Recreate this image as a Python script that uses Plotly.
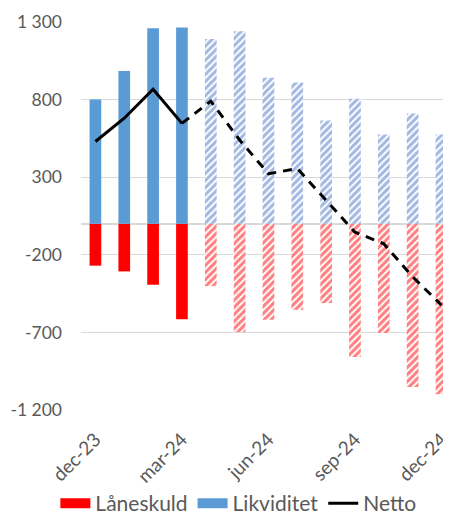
import plotly.graph_objects as go

months = ["dec-23", "jan-24", "feb-24", "mar-24", "apr-24", "maj-24", "jun-24",
          "jul-24", "aug-24", "sep-24", "okt-24", "nov-24", "dec-24"]
likviditet = [800, 985, 1260, 1265, 1190, 1240, 940, 910, 665, 805, 575, 710, 575]
laneskuld = [-270, -307, -393, -616, -402, -698, -618, -554, -511, -859, -704, -1052, -1099]
netto = [530, 680, 867, 647, 790, 540, 322, 356, 154, -54, -129, -342, -524]
x_ticks = ["dec-23", "mar-24", "jun-24", "sep-24", "dec-24"]
y_ticks = [-1200, -700, -200, 300, 800, 1300]
y_tick_text = ["-1 200", "-700", "-200", "300", "800", "1 300"]

n_actual = 4  # first months are actual (solid), rest forecast (hatched)

RED = "#FF0000"
BLUE = "#5B9BD5"
BLUE_H = "#4472C4"
GRAY = "#595959"
FONT = "Lato"

fig = go.Figure()
fig.add_trace(go.Bar(x=months[:n_actual], y=laneskuld[:n_actual], name="Låneskuld", showlegend=False,
                     marker=dict(color=RED, line=dict(width=0))))
fig.add_trace(go.Bar(x=months[:n_actual], y=likviditet[:n_actual], name="Likviditet", showlegend=False,
                     marker=dict(color=BLUE, line=dict(width=0))))
fig.add_trace(go.Bar(x=months[n_actual:], y=laneskuld[n_actual:], name="Låneskuld", showlegend=False,
                     marker=dict(color=RED, line=dict(width=0),
                                 pattern=dict(shape="/", size=5, solidity=0.6,
                                              fgcolor=RED, bgcolor="white"))))
fig.add_trace(go.Bar(x=months[n_actual:], y=likviditet[n_actual:], name="Likviditet", showlegend=False,
                     marker=dict(color=BLUE_H, line=dict(width=0),
                                 pattern=dict(shape="/", size=5, solidity=0.6,
                                              fgcolor=BLUE_H, bgcolor="white"))))
fig.add_trace(go.Scatter(x=months[:n_actual], y=netto[:n_actual], name="Netto", mode="lines",
                         showlegend=False, line=dict(color="black", width=3)))
fig.add_trace(go.Scatter(x=months[n_actual - 1:], y=netto[n_actual - 1:], name="Netto", mode="lines",
                         showlegend=False, line=dict(color="black", width=3, dash="9px,7px")))

# legend-only entries (wide rectangular swatches like the original)
fig.add_trace(go.Scatter(x=[None], y=[None], name="Låneskuld", mode="lines",
                         line=dict(color=RED, width=13)))
fig.add_trace(go.Scatter(x=[None], y=[None], name="Likviditet", mode="lines",
                         line=dict(color=BLUE, width=13)))
fig.add_trace(go.Scatter(x=[None], y=[None], name="Netto", mode="lines",
                         line=dict(color="black", width=3)))

# the page body has an 8px margin, so the figure is sized/offset to compensate
fig.update_layout(
    width=443, height=516,
    margin=dict(l=73, r=0, t=14, b=114, autoexpand=False),
    barmode="relative", bargap=0.595,
    plot_bgcolor="white", paper_bgcolor="white",
    font=dict(family=FONT, color=GRAY, size=17),
    legend=dict(orientation="h", x=0.52, xanchor="center", xref="container",
                y=0.0, yanchor="bottom", yref="container",
                font=dict(size=21, color=GRAY), itemwidth=30, traceorder="normal"),
    showlegend=True,
)
fig.update_xaxes(type="category", categoryorder="array", categoryarray=months,
                 range=[-0.5, 12.33], tickvals=x_ticks, ticktext=x_ticks, tickangle=-45,
                 ticks="outside", ticklen=10, tickcolor="rgba(0,0,0,0)",
                 showgrid=False, showline=False, zeroline=False, automargin=False,
                 tickfont=dict(size=19, color=GRAY))
fig.update_yaxes(range=[-1200, 1300], tickvals=y_ticks, ticktext=y_tick_text,
                 showgrid=True, gridcolor="#D9D9D9", gridwidth=1,
                 zeroline=True, zerolinecolor="#D9D9D9", zerolinewidth=1.5,
                 showline=False, ticks="", ticklabelstandoff=18, automargin=False,
                 tickfont=dict(size=17.5, color=GRAY))

fig.write_html("out.html")
